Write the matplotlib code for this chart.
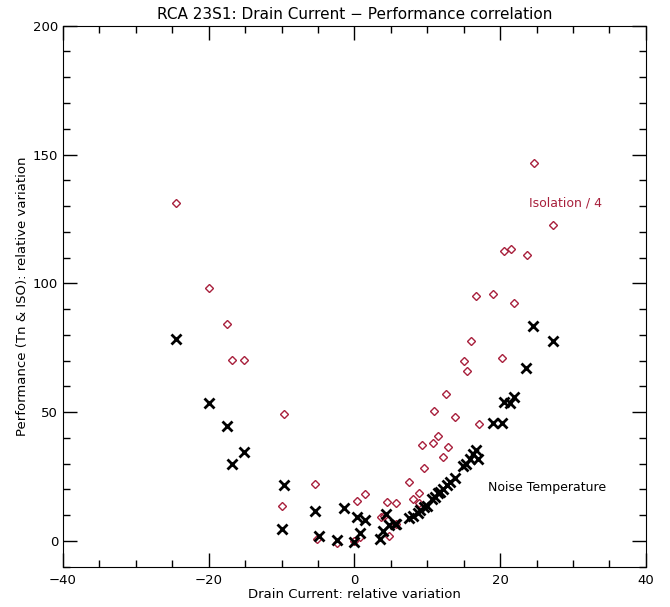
import matplotlib
matplotlib.use("Agg")
import matplotlib.pyplot as plt
from matplotlib.ticker import MultipleLocator

# Noise Temperature (black crosses)
tn_x = [-24.5, -20.0, -17.5, -16.8, -15.1, -9.7, -9.9, -5.4, -4.9, -1.5, -2.4, 0.3, 0.0,
        0.7, 1.5, 3.5, 3.9, 4.3, 4.7, 5.5, 5.7, 7.5, 8.1, 8.7, 9.0, 9.5, 9.9, 10.6, 11.1,
        11.5, 11.8, 12.2, 12.7, 13.1, 13.8, 14.9, 15.3, 15.8, 16.3, 16.7, 17.0, 19.0,
        20.2, 20.5, 21.4, 21.9, 23.6, 24.5, 27.2]
tn_y = [78.4, 53.5, 44.7, 29.9, 34.5, 21.6, 4.4, 11.5, 1.9, 12.7, 0.2, 9.2, -0.3,
        3.2, 8.2, 0.8, 4.0, 10.5, 6.0, 6.4, 6.6, 8.8, 9.8, 10.7, 12.0, 13.3, 13.7, 16.3, 17.2,
        18.5, 18.9, 20.2, 21.5, 22.8, 24.4, 28.9, 30.0, 31.9, 33.8, 35.1, 31.8, 45.8,
        45.8, 53.8, 53.5, 55.7, 67.1, 83.3, 77.4]

# Isolation / 4 (red diamonds)
iso_x = [-24.5, -20.0, -17.5, -16.8, -15.1, -9.7, -9.9, -5.4, -5.1, -2.4, 0.0, 0.4, 0.8,
         1.5, 3.6, 4.1, 4.5, 4.8, 5.7, 5.7, 7.5, 8.0, 8.8, 8.9, 9.3, 9.6, 10.9, 10.8, 11.5,
         12.1, 12.5, 12.8, 13.8, 15.1, 15.5, 16.0, 16.7, 17.1, 19.0, 20.2, 20.5, 21.5,
         21.9, 23.7, 24.6, 27.2]
iso_y = [131.3, 98.3, 84.1, 70.4, 70.1, 49.1, 13.6, 22.1, 0.7, -1.0, 0.0, 15.5, 1.6,
         18.0, 9.3, 9.8, 14.9, 1.8, 14.6, 6.4, 23.0, 16.1, 18.6, 14.6, 37.3, 28.4, 50.5, 37.8, 40.8,
         32.5, 57.2, 36.5, 47.9, 69.9, 65.9, 77.4, 95.0, 45.5, 95.9, 70.8, 112.6, 113.3,
         92.4, 111.0, 146.7, 122.5]

red = '#a8203c'

fig = plt.figure(figsize=(6.7, 6.07), dpi=100)
ax = fig.add_axes([0.094, 0.0666, 0.870, 0.891])

ax.plot(iso_x, iso_y, linestyle='none', marker='D', markersize=4.5,
        markerfacecolor='none', markeredgecolor=red, markeredgewidth=1.0)
ax.plot(tn_x, tn_y, linestyle='none', marker='x', markersize=7,
        color='black', markeredgewidth=2.0)

ax.text(23.9, 131, 'Isolation / 4', color=red, fontsize=9, va='center')
ax.text(18.4, 20.7, 'Noise Temperature', color='black', fontsize=9, va='center')

ax.set_xlim(-40, 40)
ax.set_ylim(-10, 200)
ax.xaxis.set_major_locator(MultipleLocator(20))
ax.xaxis.set_minor_locator(MultipleLocator(5))
ax.yaxis.set_major_locator(MultipleLocator(50))
ax.yaxis.set_minor_locator(MultipleLocator(10))
ax.tick_params(which='both', direction='in', top=True, right=True, labelsize=9.5)
ax.tick_params(which='major', length=10, width=1)
ax.tick_params(which='minor', length=5, width=1)
ax.tick_params(axis='x', pad=5)

ax.set_title('RCA 23S1: Drain Current \u2212 Performance correlation', fontsize=11, pad=5)
ax.set_xlabel('Drain Current: relative variation', fontsize=9.5, labelpad=1)
ax.set_ylabel('Performance (Tn & ISO): relative variation', fontsize=9.5, labelpad=3)

plt.savefig('out.png')
